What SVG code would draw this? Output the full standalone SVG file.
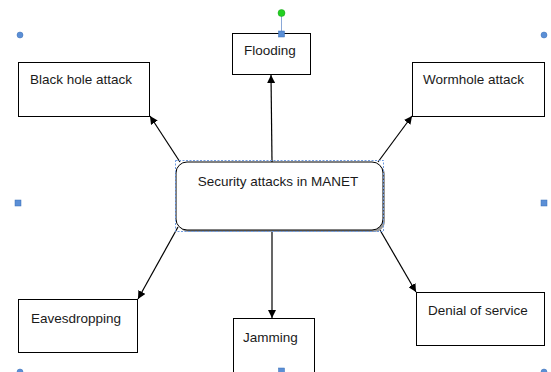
<svg xmlns="http://www.w3.org/2000/svg" width="551" height="372" viewBox="0 0 551 372">
<style>
.box{fill:#fff;stroke:#000;stroke-width:1}
.lbl{font-family:"Liberation Sans",Arial,sans-serif;font-size:13.5px;fill:#1a1a1a}
.con{stroke:#000;stroke-width:1.2;fill:none;marker-end:url(#ah)}
.handle{fill:#5b8fd6;stroke:#3b6fb6;stroke-width:0.5}
</style>
<defs>
<marker id="ah" viewBox="0 0 10 10" refX="10" refY="5" markerWidth="8" markerHeight="8" markerUnits="userSpaceOnUse" orient="auto">
<path d="M0,0 L10,5 L0,10 z" fill="#000"/>
</marker>
</defs>
<rect width="551" height="372" fill="#fff"/>
<g id="connectors">
<line class="con" x1="272" y1="162" x2="271" y2="75"/>
<line class="con" x1="180" y1="162" x2="150" y2="116"/>
<line class="con" x1="378" y1="162" x2="412" y2="116"/>
<line class="con" x1="178" y1="227" x2="138" y2="299"/>
<line class="con" x1="272" y1="230" x2="272" y2="318"/>
<line class="con" x1="380" y1="230" x2="416" y2="292"/>
</g>
<g id="center">
<rect x="178" y="164" width="207" height="68" rx="11" fill="#999"/>
<rect x="176" y="162" width="207" height="68" rx="11" class="box"/>
<rect x="175.5" y="160.5" width="208" height="71" fill="none" stroke="#6f9be0" stroke-width="1" stroke-dasharray="2,1.5"/>
<text class="lbl" x="278" y="186" text-anchor="middle">Security attacks in MANET</text>
</g>
<g id="flooding">
<rect x="232.5" y="33.5" width="78" height="41" class="box"/>
<text class="lbl" x="270" y="55" text-anchor="middle">Flooding</text>
</g>
<g id="blackhole">
<rect x="18.5" y="62.5" width="131" height="54" class="box"/>
<text class="lbl" x="30" y="84">Black hole attack</text>
</g>
<g id="wormhole">
<rect x="412.5" y="62.5" width="132" height="54" class="box"/>
<text class="lbl" x="423" y="84">Wormhole attack</text>
</g>
<g id="eavesdropping">
<rect x="18.5" y="299.5" width="119" height="53" class="box"/>
<text class="lbl" x="31" y="323">Eavesdropping</text>
</g>
<g id="jamming">
<rect x="233.5" y="318.5" width="81" height="54" class="box"/>
<text class="lbl" x="243" y="342">Jamming</text>
</g>
<g id="denial">
<rect x="416.5" y="292.5" width="128" height="53" class="box"/>
<text class="lbl" x="428" y="315">Denial of service</text>
</g>
<g id="handles">
<line x1="281.5" y1="13" x2="281.5" y2="33" stroke="#8aa8d8" stroke-width="1"/>
<circle cx="281.5" cy="13" r="3.5" fill="#22d022" stroke="#19a019" stroke-width="0.5"/>
<rect x="278.5" y="31" width="6" height="6" class="handle"/>
<circle cx="20" cy="35" r="3" class="handle"/>
<circle cx="544" cy="35" r="3" class="handle"/>
<rect x="15" y="200" width="6" height="6" class="handle"/>
<rect x="541" y="200" width="6" height="6" class="handle"/>
<rect x="278.5" y="368" width="6" height="6" class="handle"/>
<circle cx="20" cy="372" r="3" class="handle"/>
<circle cx="544" cy="372" r="3" class="handle"/>
</g>
</svg>
